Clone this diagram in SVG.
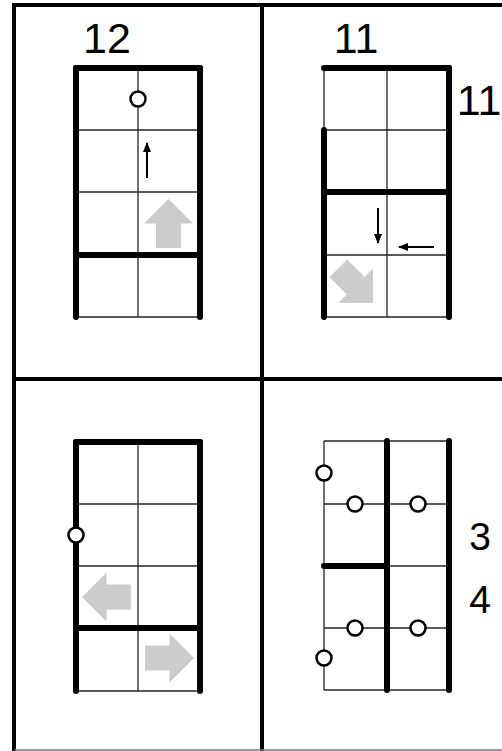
<svg xmlns="http://www.w3.org/2000/svg" width="502" height="751" viewBox="0 0 502 751">
<style>
.frame{stroke:#000;stroke-width:4;fill:none}
.thin{stroke:#222;stroke-width:1.3;fill:none}
.thick{stroke:#000;stroke-width:6;stroke-linecap:round;fill:none}
.dot{fill:#fff;stroke:#000;stroke-width:2.5}
.big{fill:#ccc}
.sa{stroke:#000;stroke-width:2;fill:none}
.lbl{font-family:"Liberation Sans",Arial,sans-serif;fill:#000;text-anchor:middle}
</style>
<defs>
<path id="garrow" d="M0,-24.5 L24.5,0 L12.5,0 L12.5,24.5 L-12.5,24.5 L-12.5,0 L-24.5,0 Z"/>
<marker id="ah" markerWidth="10" markerHeight="8" refX="9" refY="4" orient="auto" markerUnits="userSpaceOnUse">
<path d="M0,0 L10,4 L0,8 Z" fill="#000"/>
</marker>
</defs>
<rect width="502" height="751" fill="#fff"/>
<g id="frame">
<line class="frame" x1="12" y1="5" x2="502" y2="5"/>
<line class="frame" x1="14" y1="3" x2="14" y2="751"/>
<line class="frame" x1="262" y1="3" x2="262" y2="751"/>
<line class="frame" x1="14" y1="379" x2="502" y2="379"/>
<line x1="14" y1="750" x2="502" y2="750" stroke="#777" stroke-width="1.5"/>
</g>
<g id="panel-top-left">
<line class="thin" x1="138" y1="68" x2="138" y2="317"/>
<line class="thin" x1="76" y1="130" x2="200" y2="130"/>
<line class="thin" x1="76" y1="192" x2="200" y2="192"/>
<line class="thin" x1="76" y1="317" x2="200" y2="317"/>
<line class="thick" x1="76" y1="68" x2="200" y2="68"/>
<line class="thick" x1="76" y1="68" x2="76" y2="317"/>
<line class="thick" x1="200" y1="68" x2="200" y2="317"/>
<line class="thick" x1="76" y1="255" x2="200" y2="255"/>
<circle class="dot" cx="138" cy="99" r="7.5"/>
<line class="sa" x1="147" y1="178" x2="147" y2="143" marker-end="url(#ah)"/>
<use href="#garrow" class="big" transform="translate(168.5,223.5)"/>
<text class="lbl" x="107" y="53" font-size="43">12</text>
</g>
<g id="panel-top-right">
<line class="thin" x1="387" y1="68" x2="387" y2="317"/>
<line class="thin" x1="324" y1="68" x2="324" y2="130"/>
<line class="thin" x1="324" y1="130" x2="449" y2="130"/>
<line class="thin" x1="324" y1="255" x2="449" y2="255"/>
<line class="thin" x1="324" y1="317" x2="449" y2="317"/>
<line class="thick" x1="324" y1="68" x2="449" y2="68"/>
<line class="thick" x1="449" y1="68" x2="449" y2="317"/>
<line class="thick" x1="324" y1="130" x2="324" y2="317"/>
<line class="thick" x1="324" y1="192" x2="449" y2="192"/>
<line class="sa" x1="378" y1="208" x2="378" y2="243" marker-end="url(#ah)"/>
<line class="sa" x1="434" y1="247" x2="399" y2="247" marker-end="url(#ah)"/>
<use href="#garrow" class="big" transform="translate(355.7,285.7) rotate(135)"/>
<text class="lbl" x="356" y="53" font-size="43">11</text>
<text class="lbl" x="479" y="115" font-size="43">11</text>
</g>
<g id="panel-bottom-left">
<line class="thin" x1="138" y1="442" x2="138" y2="691"/>
<line class="thin" x1="76" y1="504" x2="200" y2="504"/>
<line class="thin" x1="76" y1="566" x2="200" y2="566"/>
<line class="thin" x1="76" y1="691" x2="200" y2="691"/>
<line class="thick" x1="76" y1="442" x2="200" y2="442"/>
<line class="thick" x1="76" y1="442" x2="76" y2="691"/>
<line class="thick" x1="200" y1="442" x2="200" y2="691"/>
<line class="thick" x1="76" y1="628" x2="200" y2="628"/>
<circle class="dot" cx="76" cy="535" r="7.5"/>
<use href="#garrow" class="big" transform="translate(106.5,597) rotate(-90)"/>
<use href="#garrow" class="big" transform="translate(169.5,658) rotate(90)"/>
</g>
<g id="panel-bottom-right">
<line class="thin" x1="324" y1="441" x2="449" y2="441"/>
<line class="thin" x1="324" y1="441" x2="324" y2="690"/>
<line class="thin" x1="324" y1="504" x2="449" y2="504"/>
<line class="thin" x1="387" y1="566" x2="449" y2="566"/>
<line class="thin" x1="324" y1="628" x2="449" y2="628"/>
<line class="thin" x1="324" y1="690" x2="449" y2="690"/>
<line class="thick" x1="387" y1="441" x2="387" y2="690"/>
<line class="thick" x1="449" y1="441" x2="449" y2="690"/>
<line class="thick" x1="324" y1="566" x2="387" y2="566"/>
<circle class="dot" cx="324" cy="473" r="7.5"/>
<circle class="dot" cx="355" cy="504" r="7.5"/>
<circle class="dot" cx="418" cy="504" r="7.5"/>
<circle class="dot" cx="355" cy="628" r="7.5"/>
<circle class="dot" cx="418" cy="628" r="7.5"/>
<circle class="dot" cx="324" cy="658" r="7.5"/>
<text class="lbl" x="480" y="550" font-size="39">3</text>
<text class="lbl" x="480" y="613" font-size="39">4</text>
</g>
</svg>
